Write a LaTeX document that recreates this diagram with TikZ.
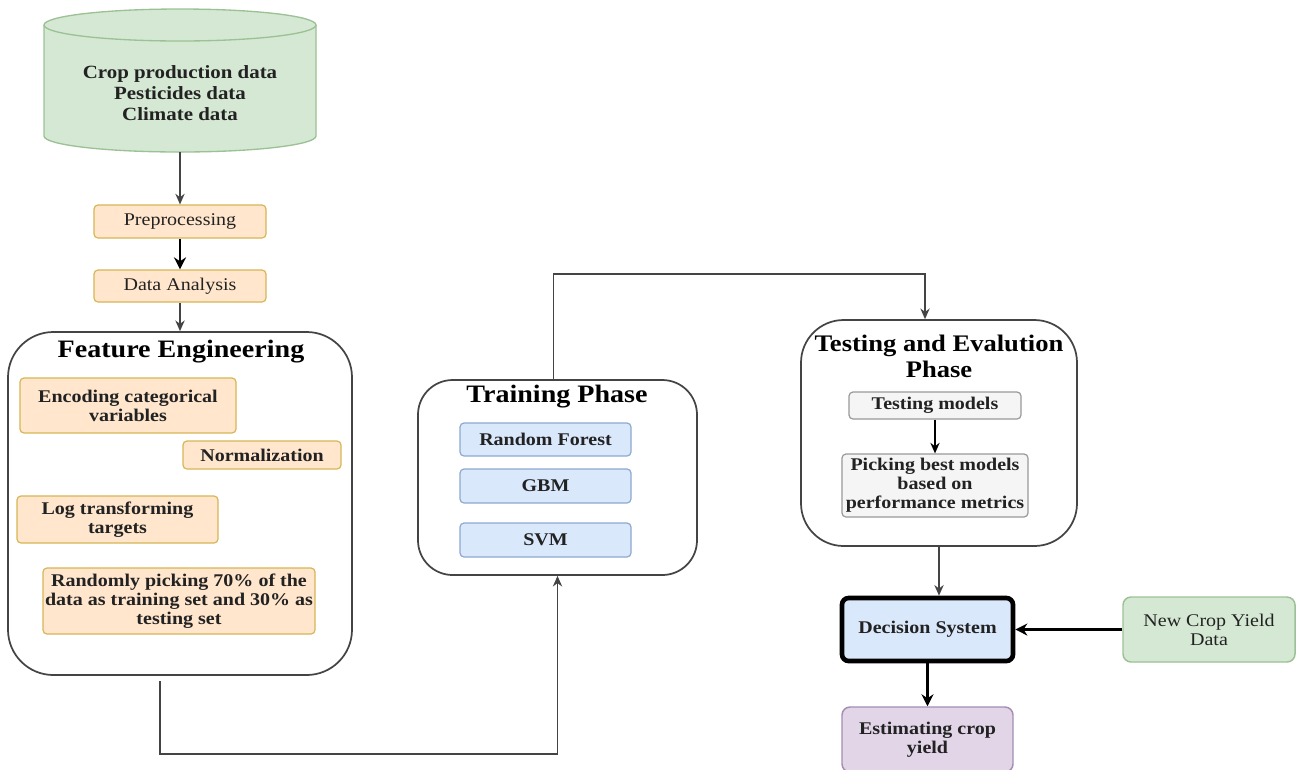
\documentclass[tikz,border=0pt]{standalone}
\usepackage{fontspec}
\setmainfont{Liberation Serif}[FakeStretch=1.12]
\usetikzlibrary{calc,arrows.meta}
\newdimen\pxu \pxu=0.75pt
\definecolor{gfill}{HTML}{D5E8D4}
\definecolor{gdraw}{HTML}{9CC195}
\definecolor{ofill}{HTML}{FFE6CC}
\definecolor{odraw}{HTML}{D6B656}
\definecolor{bfill}{HTML}{DAE8FC}
\definecolor{bdraw}{HTML}{8EA9CF}
\definecolor{sfill}{HTML}{F5F5F5}
\definecolor{sdraw}{HTML}{999999}
\definecolor{pfill}{HTML}{E1D5E7}
\definecolor{pdraw}{HTML}{A58EB3}
\definecolor{linec}{HTML}{444444}
\definecolor{txt}{HTML}{222222}
\newcommand\myBody{\fontsize{13.4}{14.2}\selectfont}
\newcommand\myTitle{\fontsize{18.8}{19.5}\selectfont\bfseries}
\begin{document}
\begin{tikzpicture}[x=0.75pt,y=-0.75pt,
  cbox/.style={draw, rounded corners=3pt, line width=0.9pt, align=center, inner sep=0pt, text=txt, font=\myBody},
  obox/.style={cbox, fill=ofill, draw=odraw},
  bbox/.style={cbox, fill=bfill, draw=bdraw},
  sbox/.style={cbox, fill=sfill, draw=sdraw},
  cont/.style={draw=linec, line width=1.3pt, fill=white, inner sep=0pt},
  ttl/.style={font=\myTitle, align=center, inner sep=0pt, text=black},
  connA/.style={draw=linec, line width=1.1pt, -{Stealth[length=8pt,width=7pt]}},
  connB/.style={draw=black, line width=2.2pt, -{Stealth[length=9pt,width=9pt]}},
  size/.style 2 args={minimum width=#1\pxu, minimum height=#2\pxu}
]
\useasboundingbox (0,0) rectangle (1299,769);
% cylinder
\fill[gfill] (44,25) -- (44,136) arc[start angle=180, end angle=360, x radius=136\pxu, y radius=16\pxu] -- (316,25) arc[start angle=0, end angle=-180, x radius=136\pxu, y radius=16\pxu] -- cycle;
\draw[gdraw, line width=1pt] (44,25) -- (44,136) arc[start angle=180, end angle=360, x radius=136\pxu, y radius=16\pxu] -- (316,25);
\draw[gdraw, line width=1pt, fill=gfill] (180,25) ellipse [x radius=136\pxu, y radius=16\pxu];
\node[size={272}{143}, inner sep=0pt] (db) at (180,80.5) {};
\node[align=center, font=\fontsize{14}{15.75}\selectfont\bfseries, text=txt] (dbt) at (180,93) {Crop production data\\Pesticides data\\Climate data};

\node[obox, font=\myBody\mdseries, size={172}{33}] (pre) at (180,221.5) {Preprocessing};
\node[obox, font=\myBody\mdseries, size={172}{32}] (da) at (180,286) {Data Analysis};

% Feature engineering
\node[cont, rounded corners=34pt, size={344}{343}] (fe) at (180,503.5) {};
\node[ttl] (fet) at (181,352) {Feature Engineering};
\node[obox, font=\myBody\bfseries, size={216}{55}] (enc) at (128,405.5) {Encoding categorical\\variables};
\node[obox, font=\myBody\bfseries, size={158}{28}] (nor) at (262,455) {Normalization};
\node[obox, font=\myBody\bfseries, size={201}{47}] (log) at (117.5,519.5) {Log transforming\\targets};
\node[obox, font=\myBody\bfseries, size={272}{66}] (rnd) at (179,601) {Randomly picking 70\% of the\\data as training set and 30\% as\\testing set};

% Training
\node[cont, rounded corners=26pt, size={279}{195}] (tr) at (557.5,477.5) {};
\node[ttl] (trt) at (557,397) {Training Phase};
\node[bbox, font=\myBody\bfseries, size={171}{33}] (rf) at (545.5,439.5) {Random Forest};
\node[bbox, font=\myBody\bfseries, size={171}{34}] (gbm) at (545.5,486) {GBM};
\node[bbox, font=\myBody\bfseries, size={171}{34}] (svm) at (545.5,540) {SVM};

% Testing
\node[cont, rounded corners=32pt, size={276}{226}] (te) at (939,433) {};
\node[ttl, font=\fontsize{17.8}{19.5}\selectfont\bfseries] (tet) at (939,356) {Testing and Evalution\\Phase};
\node[sbox, font=\myBody\bfseries, size={172}{27}] (tm) at (935,405.5) {Testing models};
\node[sbox, font=\myBody\bfseries, size={186}{63}] (pb) at (935,485.5) {Picking best models\\based on\\performance metrics};

% Decision
\node[cbox, fill=bfill, draw=black, line width=3.5pt, rounded corners=5pt, font=\myBody\bfseries, size={171}{63}] (ds) at (927.5,629.5) {Decision System};
\node[cbox, fill=gfill, draw=gdraw, line width=1.1pt, rounded corners=6pt, font=\myBody\mdseries, size={172}{65}] (nc) at (1209,629.5) {New Crop Yield\\Data};
\node[cbox, fill=pfill, draw=pdraw, line width=1.1pt, rounded corners=6pt, font=\myBody\bfseries, size={171}{65}] (est) at (927.5,739.5) {Estimating crop\\yield};

% connectors
\draw[connA] (db.south) -- (pre.north);
\draw[connB] (pre.south) -- (da.north);
\draw[connA] (da.south) -- (fe.north);
\draw[connA] ($(fe.south)+(-20,5)$) -- ++(0,73) -| (tr.south);
\draw[connA] ($(tr.north)+(-4,0)$) -- ++(0,-105) -| ($(te.north)+(-14,0)$);
\draw[connA, draw=black] (tm.south) -- (pb.north);
\draw[connA] (te.south) -- (te.south |- ds.north);
\draw[connB] (nc.west) -- (ds.east);
\draw[connB] (ds.south) -- (est.north);
\end{tikzpicture}
\end{document}
